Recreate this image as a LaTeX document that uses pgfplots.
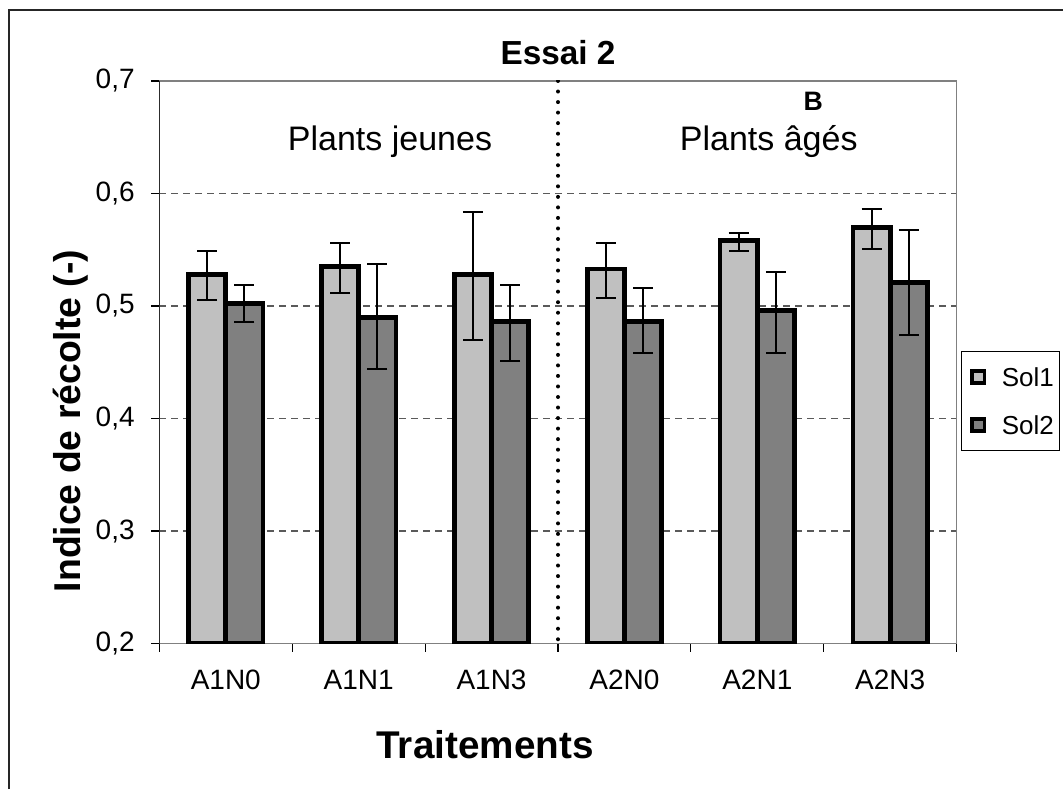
\documentclass[border=0pt]{standalone}
\usepackage{fontspec}
\setmainfont{Liberation Sans}
\usepackage{pgfplots}
\usepackage{pgfplotstable}
\pgfplotsset{compat=1.18}

\definecolor{sol1}{HTML}{C0C0C0}
\definecolor{sol2}{HTML}{808080}
\definecolor{cadre}{HTML}{808080}

% x: traitement, s1/s2: moyenne, p/m: erreur +/-
\pgfplotstableread{
x  s1    s1p   s1m   s2    s2p   s2m
0  0.528 0.021 0.023 0.502 0.017 0.016
1  0.535 0.021 0.023 0.490 0.047 0.046
2  0.528 0.056 0.058 0.486 0.033 0.035
3  0.533 0.023 0.026 0.486 0.030 0.028
4  0.558 0.007 0.009 0.496 0.034 0.038
5  0.570 0.016 0.019 0.521 0.047 0.047
}\essai

\begin{document}
\begin{tikzpicture}
\useasboundingbox (0,0) rectangle (797.25pt,591.75pt);
\draw[line width=1.1pt, black!85] (6.75pt,0) -- (6.75pt,584.25pt) -- (797.25pt,584.25pt);

\begin{axis}[
    at={(119.5pt,109.1pt)}, anchor=south west,
    scale only axis, width=598pt, height=421.9pt,
    xmin=-0.5, xmax=5.5, ymin=0.2, ymax=0.7,
    ybar, bar width=0.28,
    xtick={0,...,5},
    xticklabels={A1N0,A1N1,A1N3,A2N0,A2N1,A2N3},
    minor xtick={-0.5,0.5,...,5.5},
    major x tick style={draw=none},
    minor x tick style={black, line width=0.8pt},
    minor tick length=6pt,
    ytick={0.2,0.3,0.4,0.5,0.6,0.7},
    ytick style={black, line width=0.8pt},
    major tick length=6pt,
    tick align=outside, tick pos=left,
    ymajorgrids,
    grid style={cadre!70!black, line width=0.8pt, dash pattern=on 5pt off 4pt},
    axis line style={cadre, line width=1.1pt},
    yticklabel style={font=\fontsize{21}{24}\selectfont, xshift=-9pt},
    xticklabel style={font=\fontsize{21}{24}\selectfont, text height=15pt, text depth=0pt, yshift=-10pt},
    /pgf/number format/.cd, use comma, fixed, fixed zerofill, precision=1, assume math mode=true,
    /pgfplots/.cd,
    legend style={at={(1.005,0.431)}, anchor=west, draw=black, line width=0.8pt,
        font=\fontsize{19.5}{23}\selectfont, inner xsep=4pt, inner ysep=1pt,
        nodes={text height=14pt, text depth=0pt, inner ysep=11pt, inner xsep=0pt}},
    legend cell align=left,
    legend image code/.code={
        \draw[#1, line width=2.8pt] (2.5pt,-4.6pt) rectangle (11.7pt,4.6pt);
        \path (0pt,0pt) (23pt,0pt);},
    error bars/y dir=both, error bars/y explicit,
    error bars/error bar style={black, line width=1.5pt},
    error bars/error mark options={rotate=90, mark size=7.5pt, line width=1.5pt, black},
]
\addplot[fill=sol1, draw=black, line width=3.5pt, bar shift=-0.14]
    table[x=x, y=s1, y error plus=s1p, y error minus=s1m] {\essai};
\addplot[fill=sol2, draw=black, line width=3.5pt, bar shift=0.14]
    table[x=x, y=s2, y error plus=s2p, y error minus=s2m] {\essai};
\legend{Sol1,Sol2}

\draw[black, line width=1pt] (rel axis cs:0,0) -- (rel axis cs:0,1);
\draw[black, line width=3pt, line cap=round, dash pattern=on 0pt off 7.9pt]
    (axis cs:2.5,0.7) -- (axis cs:2.5,0.2);
\node[anchor=base, font=\fontsize{25.5}{28}\selectfont] at (axis cs:1.236,0.638) {Plants jeunes};
\node[anchor=base, font=\fontsize{25.5}{28}\selectfont] at (axis cs:4.086,0.638) {Plants âgés};
\node[anchor=base, font=\bfseries\fontsize{20}{23}\selectfont] at (axis cs:4.42,0.674) {B};
\end{axis}

\node[anchor=base, font=\bfseries\fontsize{25}{28}\selectfont] at (418.5pt,543pt) {Essai 2};
\node[anchor=base, font=\bfseries\fontsize{29}{32}\selectfont] at (363.75pt,23.25pt) {Traitements};
\node[anchor=base, rotate=90, font=\bfseries\fontsize{28}{32}\selectfont] at (60pt,276pt) {Indice de récolte (-)};
\end{tikzpicture}
\end{document}
